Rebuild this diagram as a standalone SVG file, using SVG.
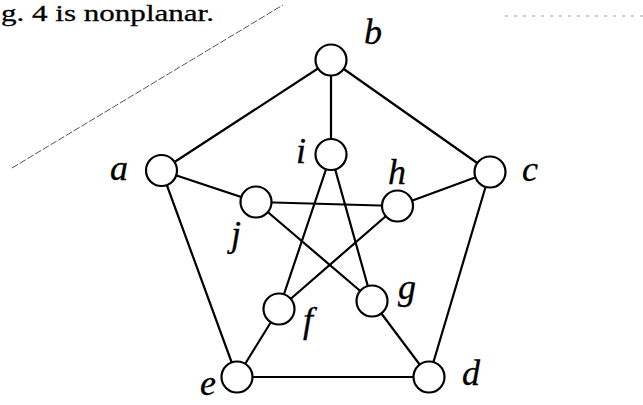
<svg xmlns="http://www.w3.org/2000/svg" width="643" height="405" viewBox="0 0 643 405">
<style>
.edge{stroke:#000;stroke-width:2.2;fill:none;stroke-linecap:round}
.node circle{fill:#fff;stroke:#000;stroke-width:2.2}
.lbl{font-family:'Liberation Serif',Tinos,'Times New Roman',Times,serif;font-style:italic;font-size:36px;fill:#000;stroke:#000;stroke-width:0.3;text-anchor:middle}
.cap{font-family:'Liberation Serif',Tinos,'Times New Roman',Times,serif;font-size:24px;fill:#000;stroke:#000;stroke-width:0.3}
</style>
<rect width="643" height="405" fill="#fff"/>
<text class="cap" x="1" y="21" textLength="213" lengthAdjust="spacingAndGlyphs">g. 4 is nonplanar.</text>
<line x1="12" y1="168" x2="283" y2="5" stroke="#555" stroke-width="1" stroke-dasharray="7 2"/>
<line x1="505" y1="16" x2="643" y2="16" stroke="#999" stroke-width="1" stroke-dasharray="3 6"/>
<g id="connectors">
<line class="edge" x1="161.5" y1="170.5" x2="331" y2="60"/>
<line class="edge" x1="331" y1="60" x2="490" y2="172"/>
<line class="edge" x1="490" y1="172" x2="429" y2="377"/>
<line class="edge" x1="429" y1="377" x2="237" y2="377"/>
<line class="edge" x1="237" y1="377" x2="161.5" y2="170.5"/>
<line class="edge" x1="331" y1="60" x2="331" y2="154.5"/>
<line class="edge" x1="161.5" y1="170.5" x2="256" y2="202"/>
<line class="edge" x1="490" y1="172" x2="397.5" y2="206"/>
<line class="edge" x1="429" y1="377" x2="372" y2="301"/>
<line class="edge" x1="237" y1="377" x2="279" y2="309"/>
<line class="edge" x1="331" y1="154.5" x2="279" y2="309"/>
<line class="edge" x1="331" y1="154.5" x2="372" y2="301"/>
<line class="edge" x1="256" y1="202" x2="397.5" y2="206"/>
<line class="edge" x1="256" y1="202" x2="372" y2="301"/>
<line class="edge" x1="397.5" y1="206" x2="279" y2="309"/>
</g>
<g id="node-a" class="node"><circle cx="161.5" cy="170.5" r="15.5"/><text class="lbl" x="119" y="180">a</text></g>
<g id="node-b" class="node"><circle cx="331" cy="60" r="15.5"/><text class="lbl" x="373" y="44">b</text></g>
<g id="node-c" class="node"><circle cx="490" cy="172" r="15.5"/><text class="lbl" x="530" y="181">c</text></g>
<g id="node-d" class="node"><circle cx="429" cy="377" r="15.5"/><text class="lbl" x="471" y="385">d</text></g>
<g id="node-e" class="node"><circle cx="237" cy="377" r="15.5"/><text class="lbl" x="208" y="395">e</text></g>
<g id="node-f" class="node"><circle cx="279" cy="309" r="15.5"/><text class="lbl" x="308" y="332">f</text></g>
<g id="node-g" class="node"><circle cx="372" cy="301" r="15.5"/><text class="lbl" x="407" y="299">g</text></g>
<g id="node-h" class="node"><circle cx="397.5" cy="206" r="15.5"/><text class="lbl" x="397" y="184">h</text></g>
<g id="node-i" class="node"><circle cx="331" cy="154.5" r="15.5"/><text class="lbl" x="301" y="163">i</text></g>
<g id="node-j" class="node"><circle cx="256" cy="202" r="15.5"/><text class="lbl" x="236" y="246">j</text></g>
</svg>
